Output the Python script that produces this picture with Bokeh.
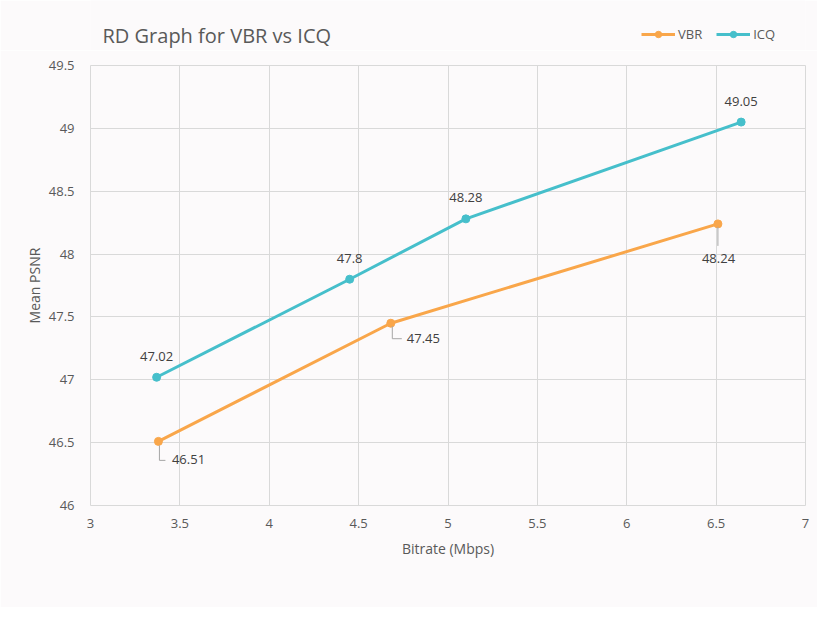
from bokeh.plotting import figure
from bokeh.layouts import column
from bokeh.models import FixedTicker, NumeralTickFormatter, Legend, LegendItem, ColumnDataSource, Range1d
from bokeh.core.properties import value
from bokeh.embed import file_html
from bokeh.resources import INLINE

# ---- data ----
vbr_bitrate = [3.38, 4.68, 6.51]
vbr_psnr = [46.51, 47.45, 48.24]
icq_bitrate = [3.37, 4.45, 5.10, 6.64]
icq_psnr = [47.02, 47.80, 48.28, 49.05]
x_ticks = [3, 3.5, 4, 4.5, 5, 5.5, 6, 6.5, 7]
y_ticks = [46, 46.5, 47, 47.5, 48, 48.5, 49, 49.5]
title_text = "RD Graph for VBR vs ICQ"
series_names = ["VBR", "ICQ"]

# ---- style ----
ORANGE = "#F9A64A"
TEAL = "#46BFCB"
GRID = "#D9D9D9"
TXT = "#595959"
LBL = "#404040"
BG = "#FCFAFB"
FONT = "Open Sans"

W = 817
HH = 50                      # header height (title + legend)
H = 557                      # main figure height
L, R, T, B = 90, 12, 15, 102
FW, FH = W - L - R, H - T - B
X0, X1 = x_ticks[0], x_ticks[-1]
Y0, Y1 = y_ticks[0], y_ticks[-1]
XPX = (X1 - X0) / FW
YPX = (Y1 - Y0) / FH

# ---- header: title and legend (frame aligned with main frame by the column layout) ----
hdr = figure(width=W, height=HH, output_backend="svg", toolbar_location=None,
             x_range=Range1d(L, W - R), y_range=Range1d(HH, 0),
             x_axis_type=None, y_axis_type=None,
             min_border_left=L, min_border_right=R, min_border_top=0, min_border_bottom=0,
             background_fill_color=BG, border_fill_color=BG, outline_line_color=None)
hdr.xgrid.visible = False
hdr.ygrid.visible = False
hdr.text(x=[102], y=[35], text=[title_text], text_font=value(FONT), text_font_size="20px",
         text_color=TXT, text_align="left", text_baseline="middle")
hvl = hdr.line(x=[-1000, -999], y=[-1000, -1000], line_color=ORANGE, line_width=3)
hvs = hdr.scatter(x=[-1000], y=[-1000], size=8, fill_color=ORANGE, line_color=ORANGE)
hil = hdr.line(x=[-1000, -999], y=[-1000, -1000], line_color=TEAL, line_width=3)
his = hdr.scatter(x=[-1000], y=[-1000], size=8, fill_color=TEAL, line_color=TEAL)
legend = Legend(items=[LegendItem(label=series_names[0], renderers=[hvl, hvs]),
                       LegendItem(label=series_names[1], renderers=[hil, his])],
                orientation="horizontal", location=(641 - L, HH - 43),
                glyph_width=34, glyph_height=16, label_standoff=3, spacing=14,
                padding=0, margin=0, border_line_color=None, background_fill_alpha=0,
                label_text_font=FONT, label_text_font_size="13px", label_text_color=TXT,
                label_height=16)
hdr.add_layout(legend, "center")

# ---- main chart ----
p = figure(width=W, height=H, output_backend="svg", toolbar_location=None,
           x_range=Range1d(X0, X1), y_range=Range1d(Y0, Y1),
           min_border_left=L, min_border_right=R, min_border_top=T, min_border_bottom=B,
           background_fill_color=BG, border_fill_color=BG, outline_line_color=GRID)

for ax in (p.xaxis[0], p.yaxis[0]):
    ax.axis_line_color = None
    ax.major_tick_line_color = None
    ax.minor_tick_line_color = None
    ax.major_label_text_font = FONT
    ax.major_label_text_font_size = "13px"
    ax.major_label_text_color = TXT
    ax.axis_label_text_font = FONT
    ax.axis_label_text_font_size = "14px"
    ax.axis_label_text_font_style = "normal"
    ax.axis_label_text_color = TXT
    ax.formatter = NumeralTickFormatter(format="0.[0]")

p.xaxis.ticker = FixedTicker(ticks=x_ticks)
p.yaxis.ticker = FixedTicker(ticks=y_ticks)
p.xaxis.axis_label = "Bitrate (Mbps)"
p.yaxis.axis_label = "Mean PSNR"
p.xaxis.major_label_standoff = 7
p.xaxis.axis_label_standoff = 8
p.yaxis.major_label_standoff = 10
p.yaxis.axis_label_standoff = 2

p.xgrid.ticker = FixedTicker(ticks=x_ticks)
p.ygrid.ticker = FixedTicker(ticks=y_ticks)
p.xgrid.grid_line_color = GRID
p.ygrid.grid_line_color = GRID

vsrc = ColumnDataSource(dict(x=vbr_bitrate, y=vbr_psnr, t=[f"{v:g}" for v in vbr_psnr],
                             xo=[13.5, 16, -16], yo=[18, 15.5, 35]))
isrc = ColumnDataSource(dict(x=icq_bitrate, y=icq_psnr, t=[f"{v:g}" for v in icq_psnr]))

p.line("x", "y", source=vsrc, line_color=ORANGE, line_width=3)
p.scatter("x", "y", source=vsrc, size=8, fill_color=ORANGE, line_color=ORANGE)
p.line("x", "y", source=isrc, line_color=TEAL, line_width=3)
p.scatter("x", "y", source=isrc, size=8, fill_color=TEAL, line_color=TEAL)

# leader lines for VBR labels (pixel offsets converted to data units)
leaders = [
    [(1, 4), (1, 19), (7, 19)],
    [(1.5, 3), (1.5, 15.5), (11, 15.5)],
    [(0, 3), (0, 22)],
]
xs, ys = [], []
for (bx, by), pts in zip(zip(vbr_bitrate, vbr_psnr), leaders):
    xs.append([bx + dx * XPX for dx, dy in pts])
    ys.append([by - dy * YPX for dx, dy in pts])
p.multi_line(xs, ys, line_color="#A6A6A6", line_width=1)

p.text("x", "y", text="t", source=vsrc, x_offset="xo", y_offset="yo",
       text_font=value(FONT), text_font_size="13px", text_color=LBL,
       text_align="left", text_baseline="middle")
p.text("x", "y", text="t", source=isrc, y_offset=-21,
       text_font=value(FONT), text_font_size="13px", text_color=LBL,
       text_align="center", text_baseline="middle")

layout = column(hdr, p, spacing=0)
open("out.html", "w").write(file_html(layout, INLINE))
